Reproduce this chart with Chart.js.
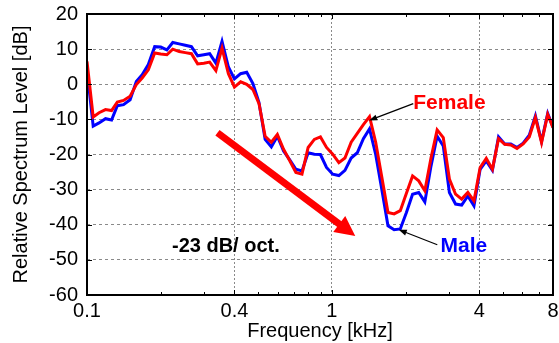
<!DOCTYPE html>
<html>
<head>
<meta charset="utf-8">
<script src="https://cdn.jsdelivr.net/npm/chart.js@4/dist/chart.umd.min.js"></script>
<style>
html,body{margin:0;padding:0;background:#fff;}
canvas{display:block;}
</style>
</head>
<body>
<canvas id="c" width="559" height="343"></canvas>
<script>
// Frequencies in kHz (1/12-octave bins)
const freqs = [0.1,0.106,0.112,0.119,0.126,0.133,0.141,0.150,0.159,0.168,
  0.178,0.189,0.2,0.212,0.224,0.238,0.252,0.267,0.283,0.3,
  0.317,0.336,0.356,0.378,0.4,0.424,0.449,0.476,0.504,0.534,
  0.566,0.599,0.635,0.673,0.713,0.755,0.8,0.848,0.898,0.951,
  1.008,1.068,1.131,1.199,1.270,1.345,1.425,1.510,1.6,1.695,
  1.796,1.903,2.016,2.136,2.263,2.397,2.540,2.691,2.851,3.020,
  3.2,3.390,3.592,3.805,4.032,4.271,4.525,4.794,5.080,5.382,
  5.702,6.041,6.4,6.780,7.184,7.611,8.0];

const femaleDb = [6.5,-9.3,-8.1,-7.2,-7.5,-5.1,-4.6,-3.4,-0.1,1.8,
  4.1,8.9,8.6,8.4,10.0,9.3,9.0,8.7,5.8,6.0,
  6.3,3.9,10.3,3.0,-0.8,0.7,0.0,-1.5,-5.5,-14.8,
  -16.5,-14.3,-18.5,-21.8,-25.1,-25.6,-18.0,-15.7,-15.0,-18.0,
  -19.9,-22.3,-21.0,-16.5,-14.0,-11.5,-9.2,-16.5,-26.5,-36.5,
  -36.9,-36.0,-31.0,-26.1,-27.5,-30.3,-21.0,-13.0,-15.2,-27.0,
  -31.3,-32.7,-30.8,-33.2,-23.7,-21.1,-24.2,-15.5,-17.1,-17.3,
  -18.3,-17.0,-15.0,-9.5,-16.6,-8.6,-12.4];

const maleDb = [4.1,-11.9,-11.0,-9.8,-10.2,-6.1,-5.8,-4.4,0.8,2.7,
  5.6,10.7,10.6,9.8,11.9,11.5,11.1,10.7,8.1,8.4,
  8.7,6.0,12.2,4.9,1.5,3.0,3.4,0.2,-5.2,-15.7,
  -17.8,-14.8,-19.0,-21.5,-24.2,-24.7,-19.5,-19.9,-20.0,-23.7,
  -25.6,-26.0,-24.5,-21.0,-19.5,-15.5,-12.7,-20.0,-30.0,-40.3,
  -41.4,-41.2,-36.5,-31.3,-30.8,-33.5,-23.3,-14.8,-17.6,-30.8,
  -34.1,-34.4,-31.8,-34.6,-24.2,-21.8,-24.5,-15.0,-17.0,-17.0,
  -18.0,-16.8,-14.5,-9.0,-16.3,-8.3,-12.2];

const xTicks = [0.1,0.4,1,4,8];
const xTickLabels = ['0.1','0.4','1','4','8'];
const xMinorTicks = [0.2,0.3,0.5,0.6,0.7,0.8,0.9,2,3,5,6,7];
const yTicks = [20,10,0,-10,-20,-30,-40,-50,-60];

// annotations (data coordinates: kHz, dB)
const slopeArrow = {from:[0.341,-13.8], to:[1.246,-43.2]};
const slopeText = {text:'-23 dB/ oct.', at:[0.2224,-46.1]};
const femaleLabel = {text:'Female', at:[3.02,-5.4], arrowFrom:[2.15,-5.5], arrowTo:[1.42,-10.3]};
const maleLabel = {text:'Male', at:[3.46,-46.1], arrowFrom:[2.695,-45.7], arrowTo:[1.876,-41.4]};

const FONT = "'Liberation Sans', Arial, Helvetica, sans-serif";

function arrowHead(ctx, x1, y1, x2, y2, len, half, color){
  const a = Math.atan2(y2-y1, x2-x1);
  const ux = Math.cos(a), uy = Math.sin(a);
  const bx = x2 - ux*len, by = y2 - uy*len;
  ctx.beginPath();
  ctx.moveTo(x2, y2);
  ctx.lineTo(bx - uy*half, by + ux*half);
  ctx.lineTo(bx + uy*half, by - ux*half);
  ctx.closePath();
  ctx.fillStyle = color;
  ctx.fill();
}

const decor = {
  id:'decor',
  afterDraw(chart){
    const {ctx, chartArea:a, scales:{x, y}} = chart;
    ctx.save();
    // ticks
    ctx.strokeStyle = '#000';
    ctx.lineWidth = 1;
    ctx.beginPath();
    yTicks.forEach(v=>{
      const py = Math.round(y.getPixelForValue(v))+0.5;
      ctx.moveTo(a.left, py); ctx.lineTo(a.left+5, py);
      ctx.moveTo(a.right, py); ctx.lineTo(a.right-5, py);
    });
    xTicks.forEach(v=>{
      const px = Math.round(x.getPixelForValue(v))+0.5;
      ctx.moveTo(px, a.top); ctx.lineTo(px, a.top+5);
      ctx.moveTo(px, a.bottom); ctx.lineTo(px, a.bottom-5);
    });
    xMinorTicks.forEach(v=>{
      const px = Math.round(x.getPixelForValue(v))+0.5;
      ctx.moveTo(px, a.top); ctx.lineTo(px, a.top+3);
      ctx.moveTo(px, a.bottom); ctx.lineTo(px, a.bottom-3);
    });
    ctx.stroke();
    // frame
    ctx.lineWidth = 2;
    ctx.strokeRect(a.left, a.top, a.right-a.left, a.bottom-a.top);

    const P = p => [x.getPixelForValue(p[0]), y.getPixelForValue(p[1])];

    // big red slope arrow
    const [sx, sy] = P(slopeArrow.from), [ex, ey] = P(slopeArrow.to);
    const ang = Math.atan2(ey-sy, ex-sx);
    ctx.strokeStyle = '#ff0000';
    ctx.lineWidth = 7;
    ctx.lineCap = 'butt';
    ctx.beginPath();
    ctx.moveTo(sx, sy);
    ctx.lineTo(ex - Math.cos(ang)*14, ey - Math.sin(ang)*14);
    ctx.stroke();
    arrowHead(ctx, sx, sy, ex, ey, 20, 10, '#ff0000');

    // thin black arrows
    [femaleLabel, maleLabel].forEach(l=>{
      const [fx, fy] = P(l.arrowFrom), [tx, ty] = P(l.arrowTo);
      const ag = Math.atan2(ty-fy, tx-fx);
      ctx.strokeStyle = '#000';
      ctx.lineWidth = 1.2;
      ctx.beginPath();
      ctx.moveTo(fx, fy);
      ctx.lineTo(tx - Math.cos(ag)*5, ty - Math.sin(ag)*5);
      ctx.stroke();
      arrowHead(ctx, fx, fy, tx, ty, 8, 3, '#000');
    });

    // texts
    ctx.textBaseline = 'middle';
    ctx.font = "bold 20px " + FONT;
    ctx.fillStyle = '#000';
    ctx.textAlign = 'left';
    let [tx, ty] = P(slopeText.at);
    ctx.fillText(slopeText.text, tx, ty);
    ctx.font = "bold 21px " + FONT;
    ctx.textAlign = 'center';
    ctx.fillStyle = '#ff0000';
    [tx, ty] = P(femaleLabel.at);
    ctx.fillText(femaleLabel.text, tx, ty);
    ctx.fillStyle = '#0000ff';
    [tx, ty] = P(maleLabel.at);
    ctx.fillText(maleLabel.text, tx, ty);
    ctx.restore();
  }
};

const gridColor = (edgeVals) => (c) => {
  const v = c.tick ? c.tick.value : null;
  return edgeVals.includes(v) ? 'rgba(0,0,0,0)' : '#8a8a8a';
};

new Chart(document.getElementById('c'), {
  type:'line',
  data:{
    datasets:[
      {label:'Female', data: freqs.map((f,i)=>({x:f, y:femaleDb[i]})), borderColor:'#ff0000', borderWidth:3},
      {label:'Male', data: freqs.map((f,i)=>({x:f, y:maleDb[i]})), borderColor:'#0000ff', borderWidth:3}
    ]
  },
  options:{
    responsive:false,
    animation:false,
    devicePixelRatio:1,
    layout:{padding:{left:0, right:6, top:14, bottom:0}},
    plugins:{legend:{display:false}, tooltip:{enabled:false}},
    elements:{point:{radius:0}, line:{tension:0, borderJoinStyle:'miter', fill:false}},
    scales:{
      x:{
        type:'logarithmic', min:0.1, max:8,
        afterBuildTicks: s => { s.ticks = xTicks.map(v=>({value:v})); },
        ticks:{autoSkip:false, maxRotation:0, minRotation:0, padding:4, color:'#000',
          font:{size:20, family:FONT},
          callback:(v)=>{ const i = xTicks.indexOf(v); return i>=0 ? xTickLabels[i] : ''; }},
        grid:{drawTicks:false, color:gridColor([0.1,8]), lineWidth:1},
        border:{display:false, dash:[2,2]},
        title:{display:true, text:'Frequency [kHz]', color:'#000', font:{size:20, family:FONT}, padding:{top:0, bottom:0}},
        afterFit: s => { s.height = 48; s.paddingLeft = 0; s.paddingRight = 0; }
      },
      y:{
        min:-60, max:20,
        afterBuildTicks: s => { s.ticks = yTicks.map(v=>({value:v})); },
        ticks:{padding:9, color:'#000', font:{size:20, family:FONT}},
        grid:{drawTicks:false, color:gridColor([20,-60]), lineWidth:1},
        border:{display:false, dash:[3,3]},
        title:{display:true, text:'Relative Spectrum Level [dB]', color:'#000', font:{size:20, family:FONT}, padding:{top:9, bottom:0}},
        afterFit: s => { s.width = 87; s.paddingTop = 0; s.paddingBottom = 0; }
      }
    }
  },
  plugins:[decor]
});
</script>
</body>
</html>
